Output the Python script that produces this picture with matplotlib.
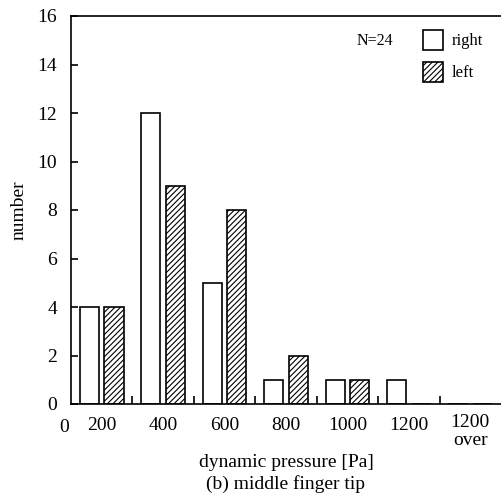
import matplotlib.pyplot as plt
import numpy as np

plt.rcParams['font.family'] = ['Liberation Serif', 'DejaVu Serif']
plt.rcParams['hatch.linewidth'] = 0.8

categories = ['200', '400', '600', '800', '1000', '1200', '1200\nover']
right = [4, 12, 5, 1, 1, 1, 0]
left = [4, 9, 8, 2, 1, 0, 0]

fig = plt.figure(figsize=(5.01, 4.99), dpi=100)
ax = fig.add_axes([71 / 501, 1 - 404 / 499, 430 / 501, 388 / 499])

x = np.arange(len(categories)) + 0.5
w = 0.31
ax.bar(x - 0.2, right, w, color='white', edgecolor='black', linewidth=1.2, label='right')
ax.bar(x + 0.2, left, w, color='white', edgecolor='black', linewidth=1.2,
       hatch='//////', label='left')

ax.set_xlim(0, 7)
ax.set_ylim(0, 16)
ax.spines['right'].set_visible(False)
for s in ax.spines.values():
    s.set_linewidth(1.2)

ax.set_yticks(range(0, 17, 2))
ax.tick_params(axis='y', direction='in', length=5, width=1.2, labelsize=14, pad=10)

# category labels (last one is two lines, set a bit higher)
ax.set_xticks(x)
ax.set_xticklabels(categories[:-1] + [''], fontsize=14)
ax.tick_params(axis='x', length=0, pad=9)
ax.text(x[-1], -0.4, categories[-1], fontsize=14, ha='center', va='top',
        linespacing=1.1)
ax.set_xticks(np.arange(1, 7), minor=True)
ax.tick_params(axis='x', which='minor', direction='in', length=6, width=1.2)
ax.text(-0.11, -0.95, '0', fontsize=14, ha='center', va='center')

ax.set_xlabel('dynamic pressure [Pa]\n(b) middle finger tip', fontsize=14, labelpad=15,
              linespacing=1.3)
ax.set_ylabel('number', fontsize=14, labelpad=7)

ax.text(357 / 501, 1 - 41 / 499, 'N=24', transform=fig.transFigure, fontsize=11.5,
        va='center', ha='left')
ax.legend(loc='upper left', bbox_to_anchor=(423 / 501, 1 - 30 / 499),
          bbox_transform=fig.transFigure, frameon=False, fontsize=12,
          borderpad=0, borderaxespad=0,
          handlelength=1.2, handleheight=1.45, handletextpad=0.55, labelspacing=0.72)

fig.savefig('out.png', dpi=100)
